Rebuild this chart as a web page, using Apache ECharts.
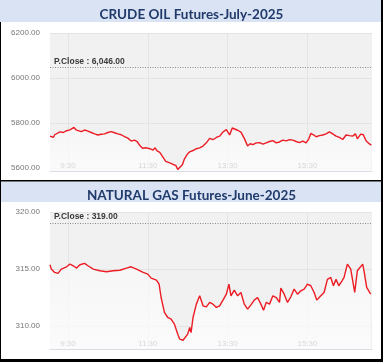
<!DOCTYPE html>
<html><head><meta charset="utf-8">
<script src="https://cdn.jsdelivr.net/npm/echarts@6/dist/echarts.min.js"></script>
<style>html,body{margin:0;padding:0;background:#fff}#c{width:383px;height:362px}</style>
</head><body><div id="c"></div>
<script>
// ---- data ----
var titles = ['CRUDE OIL Futures-July-2025', 'NATURAL GAS Futures-June-2025'];
var xTickMinutes = [570, 690, 810, 930]; // 9:30, 11:30, 13:30, 15:30
var crudeYTicks = [5600, 5800, 6000, 6200];
var gasYTicks = [310, 315, 320];
var crudePClose = 6046;
var gasPClose = 319;
var crudePCloseLabel = 'P.Close : 6,046.00';
var gasPCloseLabel = 'P.Close : 319.00';

var crudeTimes = [543,545,548,550,553,558,563,568,573,575,579,582,585,590,595,600,605,610,615,620,625,630,635,640,645,650,655,660,665,668,670,674,678,682,688,693,698,701,704,708,711,714,717,720,724,728,732,735,738,742,745,749,753,758,763,768,773,778,783,788,793,798,803,805,808,813,817,820,825,830,835,838,840,844,848,853,858,863,868,873,878,883,888,893,898,903,908,913,918,923,928,932,935,939,943,948,953,958,963,968,973,978,983,988,993,998,1002,1005,1010,1014,1018,1022,1024,1026];
var crudeValues = [5742,5738,5736,5748,5754,5761,5758,5766,5770,5763,5781,5770,5768,5762,5769,5764,5758,5752,5747,5750,5752,5758,5762,5757,5752,5748,5740,5733,5720,5712,5724,5718,5700,5688,5690,5686,5680,5690,5676,5670,5656,5652,5630,5628,5622,5616,5612,5594,5600,5615,5640,5660,5672,5678,5686,5690,5698,5712,5732,5726,5736,5742,5760,5752,5771,5747,5778,5772,5768,5760,5732,5712,5698,5708,5704,5712,5713,5706,5712,5718,5722,5712,5716,5724,5721,5726,5724,5718,5713,5720,5712,5730,5754,5748,5739,5744,5747,5752,5761,5752,5742,5736,5727,5747,5744,5742,5752,5730,5751,5748,5721,5710,5716,5702];

var gasTimes = [543,545,550,555,560,568,573,578,583,588,595,600,608,618,628,638,648,658,665,673,683,690,695,703,707,710,715,720,725,730,735,738,743,745,750,753,755,758,763,768,770,773,778,783,788,793,798,803,808,812,815,820,825,830,835,840,845,850,855,860,864,868,873,878,883,888,890,895,900,905,910,915,920,925,930,935,940,944,950,955,960,965,969,973,977,982,985,990,995,998,1001,1005,1008,1013,1015,1019,1022,1025];
var gasValues = [315.38,315.0,314.71,314.62,315.0,315.2,315.44,315.29,315.09,315.38,315.5,315.29,315.0,314.85,314.77,314.85,314.9,315.09,315.2,315.0,314.71,314.56,314.21,314.04,313.68,312.51,311.2,310.76,310.61,310.18,309.3,308.86,308.77,308.7,309.3,309.88,309.43,310.76,311.93,312.66,312.8,311.78,311.69,312.08,311.93,311.64,311.78,312.28,312.8,313.68,312.66,313.16,312.66,312.95,311.93,311.49,311.86,312.28,312.51,311.93,311.4,312.08,311.93,312.66,312.51,312.08,313.33,312.8,312.08,312.57,313.25,312.8,313.1,313.25,313.68,313.54,312.95,312.28,312.66,312.95,314.1,314.27,313.54,314.1,313.54,313.97,314.27,315.44,315.0,315.15,312.95,314.85,315.0,315.44,314.85,313.39,313.54,312.8];

function zip(a, b) { return a.map(function (t, i) { return [t, b[i]]; }); }
function fmtTime(v) { var h = Math.floor(v / 60), m = v % 60; return h + ':' + (m < 10 ? '0' : '') + m; }

var chart = echarts.init(document.getElementById('c'), null, {renderer: 'canvas'});

var gridGrey = '#e4e4e4';
var labelFont = {fontFamily: 'Liberation Sans, Arial, sans-serif', fontSize: 8, color: '#777'};

function xAxisFor(i) {
  return {
    gridIndex: i, type: 'value', min: 543, max: 1027,
    axisLine: {show: true, lineStyle: {color: '#d8dde6', width: 1}},
    axisTick: {show: false, customValues: xTickMinutes},
    axisLabel: Object.assign({inside: true, margin: 1, customValues: xTickMinutes, formatter: fmtTime}, labelFont),
    splitLine: {show: true, lineStyle: {color: gridGrey, width: 1}}
  };
}
function yAxisFor(i, min, max, ticks) {
  return {
    gridIndex: i, type: 'value', min: min, max: max,
    axisLine: {show: false}, axisTick: {show: false, customValues: ticks},
    axisLabel: Object.assign({margin: 10, customValues: ticks, formatter: function (v) { return v.toFixed(2); }}, labelFont),
    splitLine: {show: true, lineStyle: {color: gridGrey, width: 1}}
  };
}
function lineSeries(i, data, pclose, plabel) {
  return {
    type: 'line', xAxisIndex: i, yAxisIndex: i, data: data, symbol: 'none', smooth: false,
    lineStyle: {color: '#ec1c24', width: 1.4},
    areaStyle: {origin: 'start', color: {type: 'linear', x: 0, y: 0, x2: 0, y2: 1, colorStops: [{offset: 0, color: '#f8f8f8'}, {offset: 1, color: '#ffffff'}]}},
    markLine: {
      silent: true, symbol: 'none', animation: false,
      lineStyle: {color: '#8a8a8a', type: [1, 1.5], width: 1},
      label: {show: true, position: 'insideStartTop', distance: [4, 2], formatter: plabel,
              fontFamily: 'Liberation Sans, Arial, sans-serif', fontSize: 8.5, fontWeight: 'bold', color: '#3a3a3a'},
      data: [{yAxis: pclose}]
    }
  };
}

chart.setOption({
  animation: false,
  backgroundColor: '#ffffff',
  title: [
    {text: titles[0], left: 'center', top: 3, textStyle: {fontFamily: 'Lato, sans-serif', fontWeight: 'bold', fontSize: 13.5, color: '#1f3a6b'}},
    {text: titles[1], left: 'center', top: 184, textStyle: {fontFamily: 'Lato, sans-serif', fontWeight: 'bold', fontSize: 13.5, color: '#1f3a6b'}}
  ],
  graphic: [
    {type: 'rect', z: -10, shape: {x: 0, y: 0, width: 383, height: 22}, style: {fill: '#dae3f3'}},
    {type: 'rect', z: -10, shape: {x: 0, y: 181.5, width: 383, height: 20.5}, style: {fill: '#dae3f3'}},
    {type: 'rect', z: 100, shape: {x: 0, y: 180, width: 383, height: 1.5}, style: {fill: '#000'}},
    {type: 'rect', z: 100, shape: {x: 0, y: 359, width: 383, height: 3}, style: {fill: '#000'}},
    {type: 'rect', z: 100, shape: {x: 381, y: 0, width: 2, height: 362}, style: {fill: '#000'}},
    {type: 'rect', z: 100, shape: {x: 0, y: 22, width: 1, height: 340}, style: {fill: '#000'}}
  ],
  grid: [
    {left: 50, top: 33, width: 322, height: 138, show: true, backgroundColor: '#f1f1f1', borderWidth: 0},
    {left: 50, top: 212, width: 322, height: 137, show: true, backgroundColor: '#f1f1f1', borderWidth: 0}
  ],
  xAxis: [xAxisFor(0), xAxisFor(1)],
  yAxis: [yAxisFor(0, 5587, 6200, crudeYTicks), yAxisFor(1, 308, 320, gasYTicks)],
  series: [
    lineSeries(0, zip(crudeTimes, crudeValues), crudePClose, crudePCloseLabel),
    lineSeries(1, zip(gasTimes, gasValues), gasPClose, gasPCloseLabel)
  ]
});
</script></body></html>
